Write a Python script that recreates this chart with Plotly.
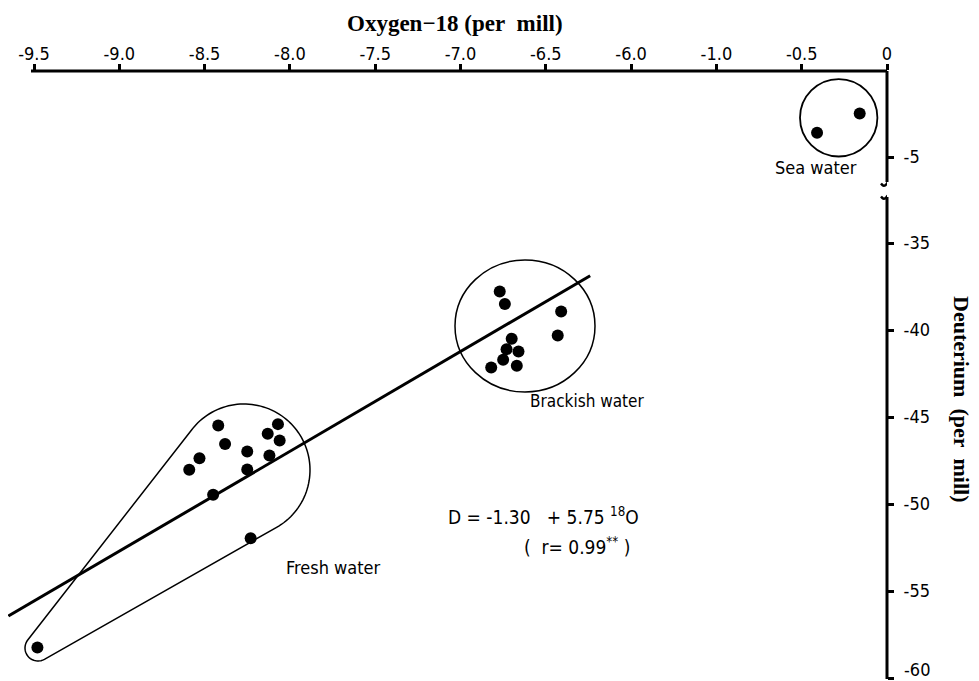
import numpy as np
import plotly.graph_objects as go

# ---------------- data ----------------
fresh_o18 = [-8.42, -8.07, -8.13, -8.06, -8.38, -8.25, -8.12, -8.53, -8.59, -8.25, -8.45, -8.23, -9.48]
fresh_d = [-45.49, -45.41, -45.96, -46.35, -46.55, -46.98, -47.21, -47.37, -48.03, -48.02, -49.47, -51.97, -58.25]

brack_o18 = [-6.77, -6.74, -6.41, -6.43, -6.70, -6.73, -6.66, -6.75, -6.67, -6.82]
brack_d = [-37.79, -38.51, -38.94, -40.32, -40.50, -41.10, -41.23, -41.71, -42.05, -42.15]

sea_o18 = [-0.16, -0.41]
sea_d = [-2.5, -3.6]

# regression line  D = -1.30 + 5.75 18O (end points as drawn)
reg_o18 = [-9.65, -6.24]
reg_d = [-56.44, -36.88]

x_ticks = [-9.5, -9.0, -8.5, -8.0, -7.5, -7.0, -6.5, -6.0, -1.0, -0.5, 0.0]
x_ticklabels = ["-9.5", "-9.0", "-8.5", "-8.0", "-7.5", "-7.0", "-6.5", "-6.0", "-1.0", "-0.5", "0"]
y_ticks = [-5, -35, -40, -45, -50, -55, -60]
y_ticklabels = ["-5", "-35", "-40", "-45", "-50", "-55", "-60"]


# ---------------- broken-axis scales ----------------
def fx(x):
    x = np.asarray(x, dtype=float)
    return np.where(x <= -3.5, (x + 9.5) * 2.0, 8.0 + (x + 1.0) * 2.0)


def fy(y):
    y = np.asarray(y, dtype=float)
    return np.where(y <= -20, y, y - 25.06)


# page body has an 8px margin: figure is drawn from screen (8, 8)
OFF = 8
W, H = 979 - OFF, 700 - OFF
PL, PR, PT, PB = 8, 887, 71, 692          # plot area in screen pixels
ML, MR, MT, MB = PL - OFF, W - (PR - OFF), PT - OFF, H - (PB - OFF)
PW, PH = PR - PL, PB - PT
SX, SY = 85.3, 17.4
U_RANGE = [10.0 - PW / SX, 10.0]
V_TOP = -25.115
V_RANGE = [V_TOP - PH / SY, V_TOP]


def px2u(px):
    return U_RANGE[0] + (px - PL) / SX


def px2v(py):
    return V_TOP - (py - PT) / SY


def v2px(v):
    return PT + (V_TOP - v) * SY


def pxpath(pts, close=False):
    s = "M " + " L ".join(f"{px2u(x):.4f},{px2v(y):.4f}" for x, y in pts)
    return s + (" Z" if close else "")


SANS = "DejaVu Sans Condensed, Liberation Sans Narrow, DejaVu Sans, sans-serif"
SERIF = "Liberation Serif, DejaVu Serif, serif"

fig = go.Figure()

# regression line
fig.add_trace(go.Scatter(x=fx(reg_o18), y=fy(reg_d), mode="lines",
                         line=dict(color="black", width=3), hoverinfo="skip"))
# points
for xs, ys in [(fresh_o18, fresh_d), (brack_o18, brack_d), (sea_o18, sea_d)]:
    fig.add_trace(go.Scatter(x=fx(xs), y=fy(ys), mode="markers",
                             marker=dict(color="black", size=12, line=dict(width=0))))

shapes = []
# axis lines
shapes.append(dict(type="line", xref="x", yref="paper", x0=px2u(31), x1=10.0, y0=1, y1=1,
                   line=dict(color="black", width=3)))
shapes.append(dict(type="line", xref="paper", yref="y", x0=1, x1=1, y0=V_TOP, y1=px2v(182),
                   line=dict(color="black", width=3)))
shapes.append(dict(type="line", xref="paper", yref="y", x0=1, x1=1, y0=px2v(197), y1=px2v(679),
                   line=dict(color="black", width=3)))
# break marks (small tildes)
for yb in (183.5, 196.5):
    xs = np.linspace(881, 893, 14)
    ys = yb + 2.2 * np.sin((xs - 881) / 12 * 2 * np.pi)
    shapes.append(dict(type="path", xref="x", yref="y", path=pxpath(list(zip(xs, ys))),
                       line=dict(color="black", width=2.5)))

# sea water circle
cx, cy, r = 838.7, 117.8, 38.7
shapes.append(dict(type="circle", xref="x", yref="y", x0=px2u(cx - r), x1=px2u(cx + r),
                   y0=px2v(cy + r), y1=px2v(cy - r), line=dict(color="black", width=1.8)))
# brackish water ellipse
shapes.append(dict(type="circle", xref="x", yref="y", x0=px2u(455), x1=px2u(595),
                   y0=px2v(392), y1=px2v(260), line=dict(color="black", width=1.5)))
# fresh water tear-drop (hull of two circles)
c1, r1 = np.array([244.0, 470.0]), 66.0
c2, r2 = np.array([38.0, 648.0]), 13.0
d = c1 - c2
ang = np.degrees(np.arctan2(d[1], d[0]))
off = np.degrees(np.arcsin((r1 - r2) / np.hypot(*d)))
a_low = ang + 90 + off
a_up = ang - 90 - off
t1 = np.radians(np.linspace(a_up, a_low, 80))
t2 = np.radians(np.linspace(a_low, a_up + 360, 30))
pts = [(c1[0] + r1 * np.cos(t), c1[1] + r1 * np.sin(t)) for t in t1]
pts += [(c2[0] + r2 * np.cos(t), c2[1] + r2 * np.sin(t)) for t in t2]
shapes.append(dict(type="path", xref="x", yref="y", path=pxpath(pts, close=True),
                   line=dict(color="black", width=1.5)))


def pxa(text, x, y, size=16, family=SANS, xanchor="center", angle=0):
    return dict(text=text, xref="paper", yref="paper", x=(x - PL) / PW, y=(PB - y) / PH,
                xanchor=xanchor, yanchor="middle", showarrow=False, textangle=angle,
                font=dict(family=family, size=size, color="black"))


NB = "\u00a0"
# bottom tick label is lifted a little (as in the original) so it stays on the page
ticktext_y = y_ticklabels[:-1] + [""]
annotations = [
    pxa("<b>Oxygen\u221218 (per" + NB + NB + "mill)</b>", 455, 23, size=23, family=SERIF),
    pxa("<b>Deuterium" + NB + NB + "(per" + NB + NB + "mill)</b>", 962, 399, size=22, family=SERIF, angle=90),
    pxa("Sea water", 816, 167, size=18),
    pxa("Brackish water", 528, 401, size=17, xanchor="left"),
    pxa("Fresh water", 333, 567, size=18),
    pxa("D = -1.30" + NB * 3 + "+ 5.75" + NB + "<sup>18</sup>O", 446, 516, size=19, xanchor="left"),
    pxa("(" + NB * 2 + "r= 0.99<sup>**</sup>" + NB + ")", 522, 546, size=19, xanchor="left"),
    pxa(y_ticklabels[-1], 902, float(v2px(fy(y_ticks[-1]))) - 8, size=18, xanchor="left"),
]

fig.update_layout(
    width=W, height=H, margin=dict(l=ML, r=MR, t=MT, b=MB, pad=0, autoexpand=False),
    plot_bgcolor="white", paper_bgcolor="white", showlegend=False,
    shapes=shapes, annotations=annotations,
    xaxis=dict(range=U_RANGE, side="top", showgrid=False, zeroline=False, showline=False,
               tickmode="array", tickvals=fx(x_ticks), ticktext=x_ticklabels,
               ticks="outside", ticklen=6, tickwidth=2.5, tickcolor="black",
               ticklabelstandoff=-3,
               tickfont=dict(family=SANS, size=18, color="black")),
    yaxis=dict(range=V_RANGE, side="right", showgrid=False, zeroline=False, showline=False,
               tickmode="array", tickvals=fy(y_ticks), ticktext=ticktext_y,
               ticks="outside", ticklen=6, tickwidth=2.5, tickcolor="black",
               ticklabelstandoff=6,
               tickfont=dict(family=SANS, size=18, color="black")),
)

fig.write_html("out.html")
